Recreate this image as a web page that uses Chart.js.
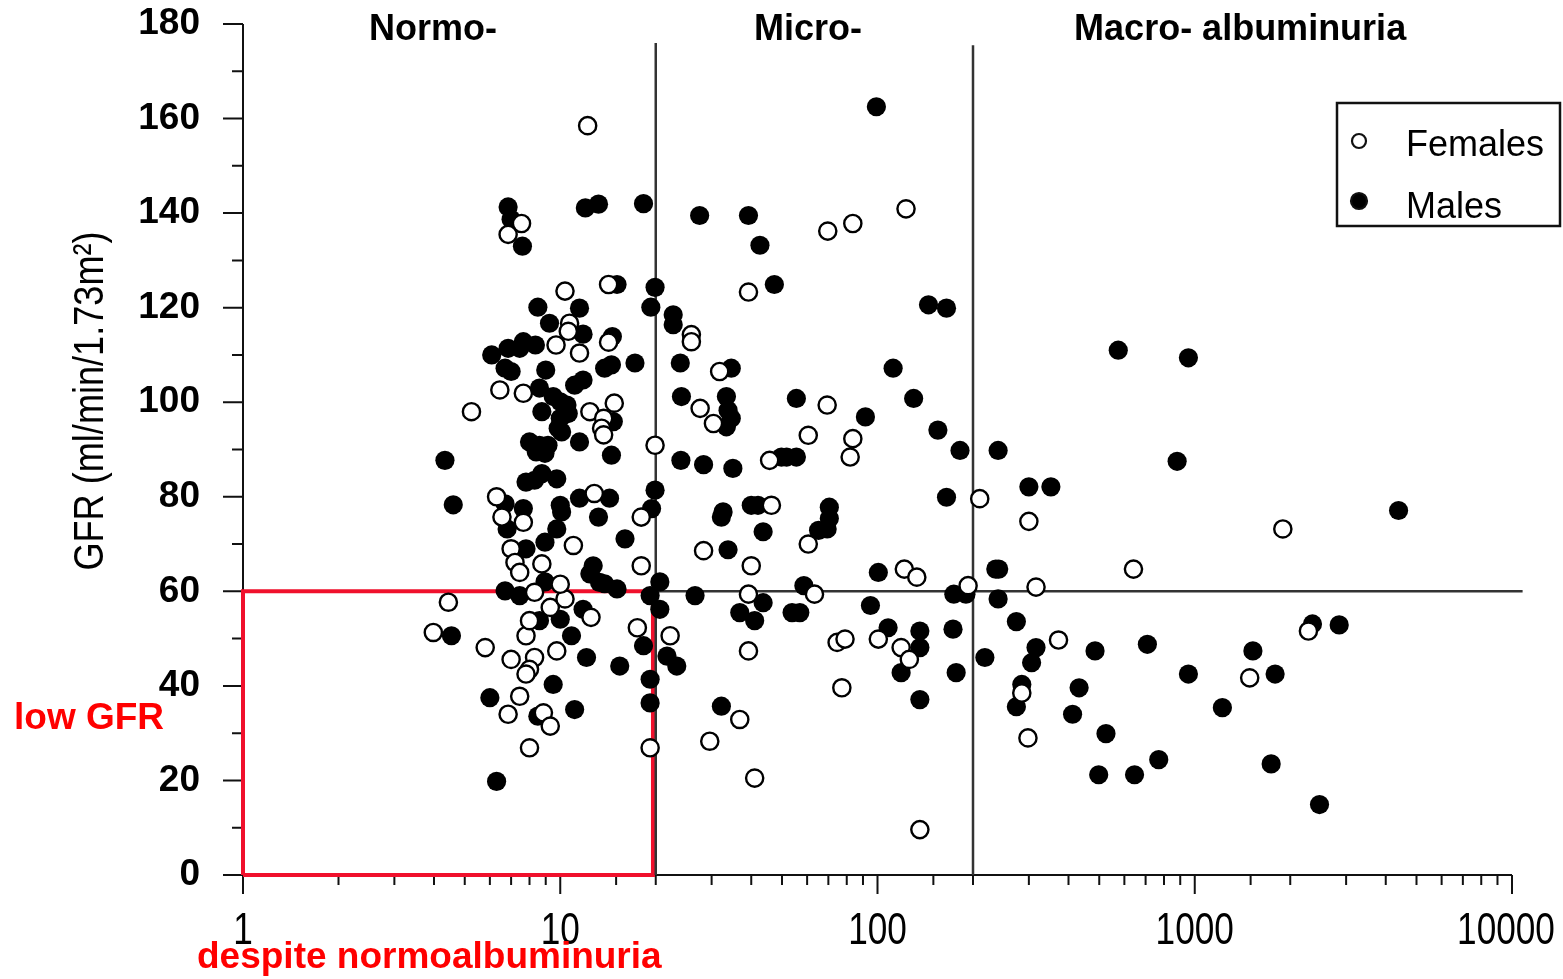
<!DOCTYPE html>
<html>
<head>
<meta charset="utf-8">
<style>
  html, body { margin: 0; padding: 0; background: #fff; }
  #wrap { width: 1563px; height: 979px; }
</style>
<script src="https://cdn.jsdelivr.net/npm/chart.js@4/dist/chart.umd.min.js"></script>
</head>
<body>
<div id="wrap"><canvas id="gfrChart" width="1563" height="979"></canvas></div>
<script>
// albumin excretion (x, log) vs GFR (y), one pair per patient
const females = [
  [12.2, 158.5], [7.55, 137.8], [6.85, 135.5], [69.7, 136.2], [83.6, 137.8], [123, 140.9],
  [39.2, 123.3], [10.35, 123.5], [14.2, 124.9], [10.7, 116.7], [10.6, 115], [25.9, 114.3],
  [25.9, 112.8], [14.2, 112.7], [9.7, 112.1], [11.5, 110.4], [6.45, 102.6], [7.65, 101.9],
  [5.25, 98], [12.4, 98], [14.8, 99.8], [13.7, 96.6], [13.5, 94.5], [13.7, 93.1], [19.9, 90.9],
  [6.3, 80], [6.55, 75.7], [7.65, 74.6], [12.8, 80.7], [18.0, 75.7], [7.0, 69], [11, 69.7],
  [7.2, 66.1], [8.75, 65.8], [18, 65.4], [4.44, 57.7], [3.98, 51.3], [5.8, 48.1], [7.0, 45.6],
  [8.3, 46], [8.0, 43.5], [7.8, 42.5], [9.75, 47.4], [7.8, 50.6], [8.0, 53.8], [9.3, 56.6],
  [10.35, 58.4], [12.5, 54.5], [17.5, 52.3], [22.2, 50.6], [19.2, 26.9], [7.45, 37.8],
  [6.85, 34], [8.85, 34.3], [9.3, 31.5], [8.0, 26.9], [8.3, 59.8], [10, 61.5], [7.45, 64],
  [31.8, 106.5], [27.6, 98.7], [30.4, 95.5], [69.4, 99.4], [60.5, 93], [83.6, 92.3], [82, 88.4],
  [45.7, 87.7], [210, 79.6], [46.3, 78.2], [60.5, 70], [28.3, 68.6], [40, 65.4], [121.5, 64.7],
  [133, 63], [193, 61.2], [39.2, 59.4], [63.3, 59.4], [39.2, 47.4], [74.6, 49.2], [79, 49.9],
  [100.6, 49.9], [118.7, 48.1], [126, 45.6], [77.2, 39.6], [36.8, 32.9], [29.6, 28.3],
  [41, 20.5], [136, 9.6], [300, 74.8], [1895, 73.2], [641, 64.7], [316, 60.9], [372, 49.7],
  [285, 38.5], [298, 29], [1490, 41.7], [2282, 51.6]
];

const males = [
  [99.2, 162.5], [6.85, 141.3], [7.0, 138.7], [7.6, 133], [12.0, 141.1], [13.2, 141.9],
  [18.3, 142], [27.5, 139.5], [39.2, 139.5], [42.6, 133.2], [47.3, 124.9], [144.8, 120.6],
  [165, 119.9], [15.1, 124.9], [19.9, 124.3], [19.3, 120.1], [8.5, 120.1], [11.5, 119.9],
  [9.25, 116.7], [11.8, 114.4], [22.7, 118.5], [22.7, 116.4], [14.6, 113.9], [6.08, 110],
  [6.85, 111.4], [7.65, 112.8], [8.35, 112.1], [6.7, 107.2], [7.0, 106.5], [7.45, 111.4],
  [9.0, 106.8], [14.5, 107.9], [13.8, 107.2], [17.2, 108.3], [11.8, 104.7], [11.1, 103.6],
  [8.6, 103], [9.5, 101.2], [10, 100.1], [10.5, 99.4], [10.6, 97.6], [8.75, 98], [10, 96.6],
  [9.85, 94.5], [10.1, 93.7], [14.7, 95.9], [11.5, 91.6], [4.33, 87.7], [8.0, 91.6],
  [8.6, 90.9], [8.95, 89.2], [8.4, 89.5], [9.15, 90.9], [14.5, 88.8], [7.8, 83.1],
  [8.75, 84.9], [9.75, 83.8], [8.3, 83.5], [4.6, 78.3], [6.7, 78.5], [7.65, 77.5], [6.8, 73.2],
  [10, 78.2], [10.1, 76.8], [11.5, 79.7], [14.3, 79.7], [13.2, 75.7], [19.9, 81.4],
  [19.4, 77.5], [9.75, 73.2], [16, 71.1], [8.95, 70.4], [7.8, 69], [12.7, 65.4], [4.54, 50.6],
  [8.6, 53.8], [10, 54.1], [10.85, 50.6], [11.8, 56.2], [12.1, 46], [15.4, 44.2], [18.3, 48.5],
  [21.7, 46.3], [23.3, 44.2], [19.2, 41.4], [19.2, 36.4], [9.5, 40.3], [6.0, 37.5], [8.5, 33.6],
  [11.1, 35], [6.3, 19.8], [6.7, 60.1], [7.45, 59.1], [13.3, 61.9], [15.1, 60.5], [20.6, 62],
  [20.6, 56.2], [26.6, 59.1], [12.4, 63.7], [13.8, 61.6], [8.95, 62], [19.2, 59.1],
  [23.9, 108.3], [34.6, 107.2], [24.1, 101.2], [33.4, 101.2], [33.8, 98.3], [34.6, 96.6],
  [33.4, 94.8], [55.5, 100.8], [91.6, 96.9], [112, 107.2], [130, 100.8], [155, 94.1],
  [182, 89.8], [24, 87.7], [28.3, 86.8], [35, 86], [49.8, 88.4], [55.5, 88.4], [51.7, 88.4],
  [240, 89.8], [165, 79.9], [40, 78.2], [42, 78.2], [32.6, 76.8], [32.2, 75.7], [70.5, 77.8],
  [70.5, 75.4], [69.4, 73.2], [65.2, 72.9], [43.6, 72.6], [33.8, 68.8], [100.6, 64],
  [236, 64.7], [58.6, 61.2], [174, 59.4], [190, 59.4], [43.6, 57.6], [36.8, 55.5], [41, 53.8],
  [53.8, 55.5], [56.9, 55.5], [95, 57], [108, 52.3], [136, 51.6], [136, 48.1], [118.7, 42.8],
  [173, 52], [218, 46], [177, 42.8], [136, 37.1], [32.2, 35.7], [574, 111], [955, 109.4],
  [880, 87.5], [300, 82.1], [352, 82.1], [4390, 77.1], [241, 64.7], [240, 58.4], [274, 53.6],
  [316, 48.1], [306, 44.9], [485, 47.4], [709, 48.8], [285, 40.3], [274, 35.6], [432, 39.6],
  [412, 34], [525, 29.9], [498, 21.2], [646, 21.2], [770, 24.4], [955, 42.5], [1222, 35.4],
  [1525, 47.4], [1792, 42.5], [1741, 23.5], [2350, 53.1], [2853, 52.9], [2473, 14.9]
];

const albCuts = [20, 200];        // normo / micro / macro boundaries
const gfrCut = 60;
const bandLabels = ['Normo-', 'Micro-', 'Macro- albuminuria'];
const xTickLabels = ['1', '10', '100', '1000', '10000'];
const yTickLabels = ['0', '20', '40', '60', '80', '100', '120', '140', '160', '180'];
const yTitle = 'GFR (ml/min/1.73m\u00B2)';

const toXY = arr => arr.map(p => ({ x: p[0], y: p[1] }));

const RED = '#ff0000';
const INK = '#111';
const SANS = "'Liberation Sans', Arial, Helvetica, sans-serif";

const guide = (pts, color, width) => ({
  data: toXY(pts), showLine: true, pointRadius: 0, borderColor: color,
  borderWidth: width, fill: false, clip: false, isGuide: true
});

// text squeezed horizontally to look like a narrow face
function narrowText(ctx, text, x, y, squeeze) {
  ctx.save();
  ctx.translate(x, y);
  ctx.scale(squeeze, 1);
  ctx.fillText(text, 0, 0);
  ctx.restore();
}

// axes, ticks, band headers, legend box and the red notes
const decor = {
  id: 'decor',
  beforeDatasetsDraw(chart) {
    const { ctx, chartArea: a, scales: { x, y } } = chart;
    ctx.save();
    ctx.strokeStyle = INK;
    ctx.lineWidth = 2;
    ctx.beginPath();
    ctx.moveTo(a.left - 8, a.bottom); ctx.lineTo(a.right, a.bottom);
    ctx.moveTo(a.left, a.top); ctx.lineTo(a.left, a.bottom + 6);
    x.ticks.forEach(t => {
      const px = x.getPixelForValue(t.value);
      const major = Math.abs(Math.log10(t.value) % 1) < 1e-9;
      ctx.moveTo(px, a.bottom); ctx.lineTo(px, a.bottom + (major ? 19 : 10));
    });
    for (let v = 0; v <= 180; v += 10) {
      const py = y.getPixelForValue(v);
      ctx.moveTo(a.left, py); ctx.lineTo(a.left - (v % 20 === 0 ? 20 : 11), py);
    }
    ctx.stroke();

    // decade labels on the log axis, narrow and tall
    ctx.fillStyle = '#000';
    ctx.font = '44px ' + SANS;
    ctx.textAlign = 'center';
    ctx.textBaseline = 'alphabetic';
    xTickLabels.forEach((lab, i) => narrowText(ctx, lab, x.getPixelForValue(Math.pow(10, i)) - (i === 4 ? 6 : 0), 944, 0.8));
    ctx.restore();
  },
  afterDraw(chart) {
    const { ctx, scales: { x } } = chart;
    ctx.save();
    ctx.fillStyle = '#000';

    // band headers
    ctx.font = 'bold 36px ' + SANS;
    ctx.textAlign = 'center';
    ctx.textBaseline = 'alphabetic';
    [3.97, 60.4, 1390].forEach((v, i) => ctx.fillText(bandLabels[i], x.getPixelForValue(v), 40));

    // y title
    ctx.save();
    ctx.translate(103, 401);
    ctx.rotate(-Math.PI / 2);
    ctx.font = '42px ' + SANS;
    narrowText(ctx, yTitle, 0, 0, 0.86);
    ctx.restore();

    // legend
    ctx.lineWidth = 2.5;
    ctx.strokeStyle = INK;
    ctx.strokeRect(1337, 103, 223, 123);
    ctx.font = '36px ' + SANS;
    ctx.textAlign = 'left';
    chart.data.datasets.filter(d => !d.isGuide).forEach((d, i) => {
      const cy = i === 0 ? 141 : 201;
      ctx.beginPath();
      ctx.arc(1359, cy, i === 0 ? 7 : 8, 0, Math.PI * 2);
      ctx.fillStyle = d.backgroundColor;
      ctx.fill();
      ctx.lineWidth = 2.2;
      ctx.stroke();
      ctx.fillStyle = '#000';
      ctx.fillText(d.label, 1406, i === 0 ? 156 : 218);
    });

    // red notes
    ctx.fillStyle = RED;
    ctx.font = 'bold 37px ' + SANS;
    ctx.fillText('low GFR', 14, 729);
    ctx.fillText('despite normoalbuminuria', 197, 968);
    ctx.restore();
  }
};

new Chart(document.getElementById('gfrChart'), {
  type: 'scatter',
  data: {
    datasets: [
      { label: 'Females', data: toXY(females), pointRadius: 8.6, borderWidth: 2.4,
        backgroundColor: '#fff', borderColor: '#000' },
      { label: 'Males', data: toXY(males), pointRadius: 9.6, borderWidth: 0,
        backgroundColor: '#000', borderColor: '#000' },
      guide([[albCuts[0], 0], [albCuts[0], 176]], '#333', 2.5),
      guide([[albCuts[1], 0], [albCuts[1], 175.5]], '#333', 2.5),
      guide([[albCuts[0], gfrCut], [10800, gfrCut]], '#333', 2.5),
      guide([[1, 0], [1, gfrCut], [19.6, gfrCut], [19.6, 0], [1, 0]], '#f0102c', 4)
    ]
  },
  options: {
    responsive: false,
    animation: false,
    events: [],
    layout: { padding: { top: 24, right: 51, left: 0, bottom: 0 } },
    plugins: { legend: { display: false }, tooltip: { enabled: false } },
    scales: {
      x: {
        type: 'logarithmic', min: 1, max: 10000,
        grid: { display: false }, border: { display: false },
        afterFit: s => { s.height = 104; s.paddingLeft = 0; s.paddingRight = 0; },
        ticks: { display: false, autoSkip: false, maxRotation: 0 }
      },
      y: {
        min: 0, max: 180,
        grid: { display: false }, border: { display: false },
        afterFit: s => { s.width = 243; s.paddingTop = 0; s.paddingBottom = 0; },
        ticks: {
          stepSize: 20, padding: 35, color: '#000',
          font: { family: SANS, size: 37, weight: 'bold' },
          callback: (v) => yTickLabels[v / 20]
        }
      }
    }
  },
  plugins: [decor]
});
</script>
</body>
</html>
